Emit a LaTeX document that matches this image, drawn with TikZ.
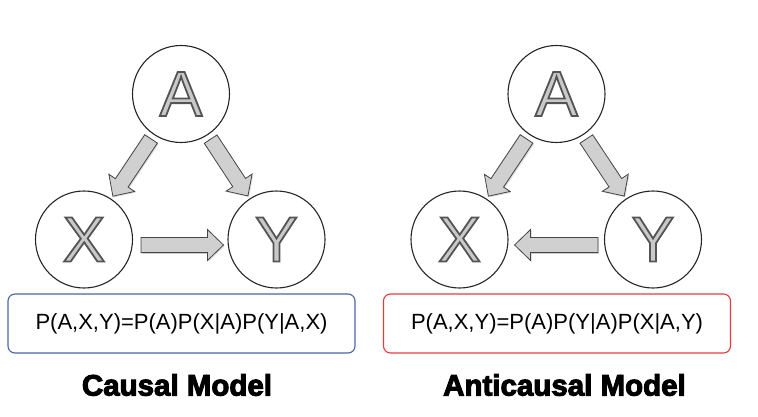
\documentclass[tikz,border=0pt]{standalone}
\usepackage{fontspec}
\setmainfont{Liberation Sans}
\newfontfamily\titlefont{Liberation Sans}[BoldFeatures={FakeBold=3.5}]
\newfontfamily\letterfont{Liberation Sans}[FakeBold=2.8]
\usetikzlibrary{calc,shadows}
\definecolor{letterfillc}{HTML}{C9C9C9}
\definecolor{arrowfillc}{HTML}{D0D0D0}
\definecolor{arrowlinec}{HTML}{454545}
\definecolor{bluebox}{HTML}{4A64A8}
\definecolor{redbox}{HTML}{E83A3A}
\tikzset{
  circ/.style={circle, draw=black!85, line width=1.1pt, minimum size=97pt, inner sep=0pt},
  letterfill/.style={inner sep=0pt, text=letterfillc, font=\letterfont\fontsize{64}{64}\selectfont},
  barrow/.style={fill=arrowfillc, draw=arrowlinec, line width=0.8pt, line join=miter,
    drop shadow={shadow xshift=1.2pt, shadow yshift=-1.2pt, opacity=0.25}},
  formbox/.style={rounded corners=7pt, line width=1.1pt, minimum width=347pt, minimum height=59pt,
    inner sep=0pt, font=\fontsize{22}{26}\selectfont},
  titletext/.style={inner sep=0pt, font=\titlefont\bfseries\fontsize{29.5}{32}\selectfont}
}
\newcommand\circletter[3]{%
  \node[circ] (#1) at (#2) {};
  \node[letterfill] (#1l) at (#1) {\special{pdf:literal direct 0.33 0.33 0.33 RG}#3};
}
\newcommand\blockarrow[2]{%
  \draw[barrow] let \p1=(#1), \p2=(#2), \n1={atan2(\y2-\y1,\x2-\x1)},
    \n2={veclen(\x2-\x1,\y2-\y1)} in [shift={(\p1)}, rotate=\n1]
    (0pt,-7.6pt) -- ({\n2-16pt},-7.6pt) -- ({\n2-16pt},-15.5pt) -- (\n2,0pt)
    -- ({\n2-16pt},15.5pt) -- ({\n2-16pt},7.6pt) -- (0pt,7.6pt) -- cycle;
}
\begin{document}
\begin{tikzpicture}[x=1pt,y=1pt]
\useasboundingbox (0,0) rectangle (758,416);
% ---------- causal model ----------
\circletter{A1}{181,322}{A}
\circletter{X1}{84,176.5}{X}
\circletter{Y1}{276.5,176.5}{Y}
\coordinate (a1s) at ($(A1)!54pt!(X1)$);
\coordinate (a1e) at ($(X1)!52pt!(A1)$);
\coordinate (b1s) at ($(A1)!54pt!(Y1)$);
\coordinate (b1e) at ($(Y1)!52pt!(A1)$);
\coordinate (c1s) at ($(X1.east)+(8,-5.5)$);
\coordinate (c1e) at ($(Y1.west)+(-4,-5.5)$);
\blockarrow{a1s}{a1e}
\blockarrow{b1s}{b1e}
\blockarrow{c1s}{c1e}
\node[formbox, draw=bluebox] (F1) at (181.5,92.5) {P(A,X,Y)=P(A)P(X|A)P(Y|A,X)};
\node[titletext] (T1) at (177,31) {Causal Model};
% ---------- anticausal model ----------
\circletter{A2}{556.5,322}{A}
\circletter{X2}{459.5,176.5}{X}
\circletter{Y2}{653,176.5}{Y}
\coordinate (a2s) at ($(A2)!54pt!(X2)$);
\coordinate (a2e) at ($(X2)!52pt!(A2)$);
\coordinate (b2s) at ($(A2)!54pt!(Y2)$);
\coordinate (b2e) at ($(Y2)!52pt!(A2)$);
\coordinate (c2s) at ($(Y2.west)+(-6,-5.5)$);
\coordinate (c2e) at ($(X2.east)+(6,-5.5)$);
\blockarrow{a2s}{a2e}
\blockarrow{b2s}{b2e}
\blockarrow{c2s}{c2e}
\node[formbox, draw=redbox] (F2) at (557,92.5) {P(A,X,Y)=P(A)P(Y|A)P(X|A,Y)};
\node[titletext] (T2) at (564.5,31) {Anticausal Model};
\end{tikzpicture}
\end{document}
